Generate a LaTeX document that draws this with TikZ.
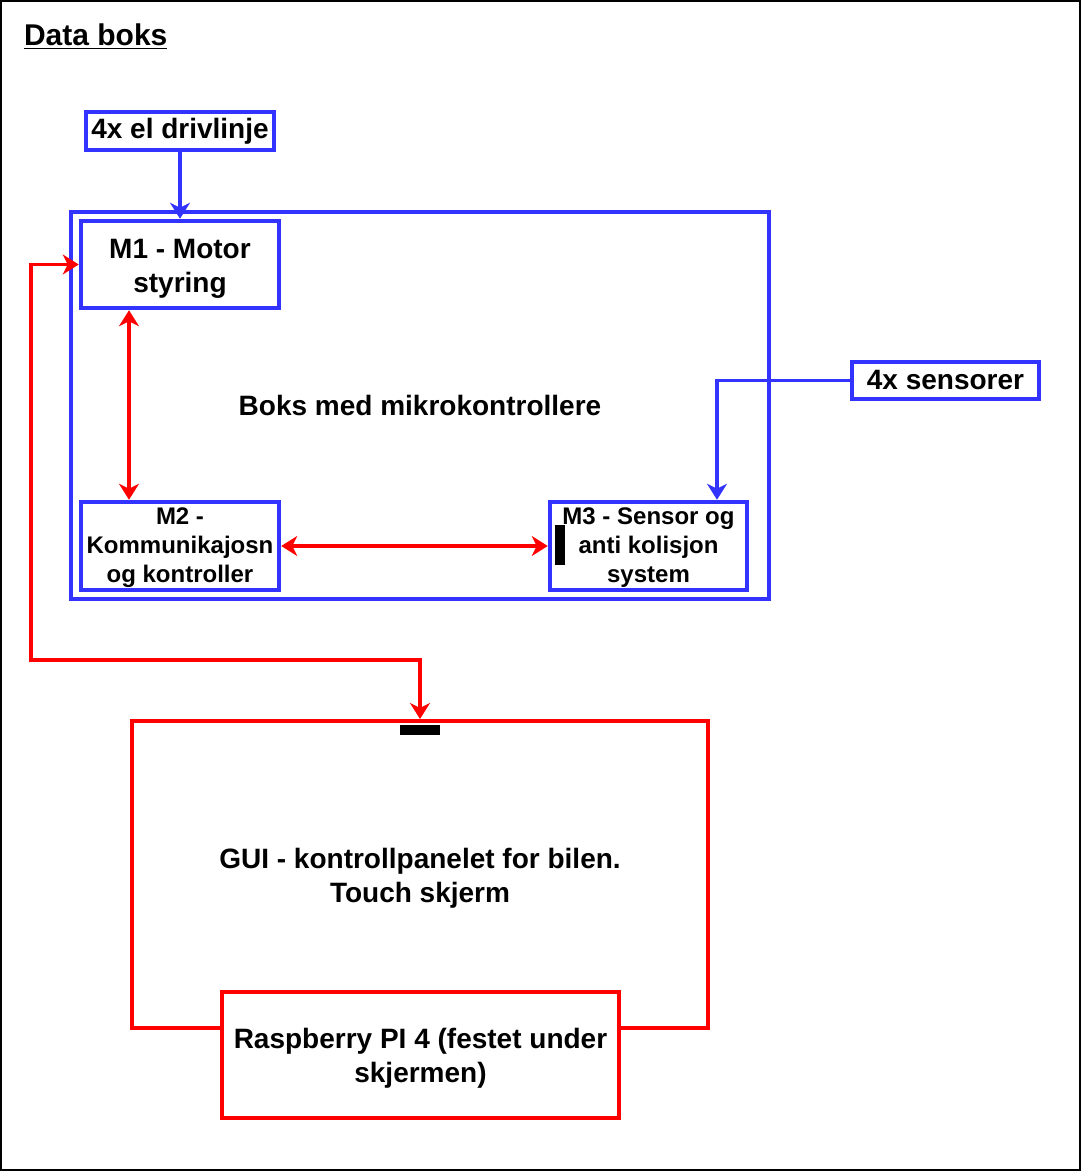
\documentclass[tikz,border=0pt]{standalone}
\usepackage{fontspec}
\setmainfont{Liberation Sans}
\usetikzlibrary{arrows.meta,positioning}
\definecolor{boxblue}{HTML}{3333FF}
\definecolor{linkred}{HTML}{FF0000}

\begin{document}
\begin{tikzpicture}[x=0.5pt,y=-0.5pt,
    bbox/.style={draw=boxblue,line width=2.25pt,fill=white,align=center,
      font=\fontsize{14}{17}\selectfont\bfseries,inner sep=0pt},
    sbox/.style={bbox,font=\fontsize{12}{14.5}\selectfont\bfseries,text height=39.2pt},
    rbox/.style={draw=linkred,line width=2pt,fill=white,align=center,
      font=\fontsize{14}{17}\selectfont\bfseries,inner sep=0pt},
    tall/.style={text height=30.5pt},
    barr/.style={-{Stealth[length=8pt,width=10pt,inset=2.5pt]},boxblue,line width=1.75pt},
    rarr/.style={{Stealth[length=8pt,width=10pt,inset=2.5pt]}-{Stealth[length=8pt,width=10pt,inset=2.5pt]},linkred,line width=1.75pt}]
    \useasboundingbox (0,0) rectangle (1081,1171);
    \draw[line width=1pt] (1,1) rectangle (1080,1170);
    \node[anchor=west,font=\fontsize{15}{18}\selectfont\bfseries](title) at (17,37){\underline{Data boks}};
    % microcontroller box
    \node[bbox,minimum width=349pt,minimum height=193.5pt](mcu) at (420,405.5){Boks med mikrokontrollere};
    \node[bbox,minimum width=94pt,minimum height=19pt](drive) at (180,131){4x el drivlinje};
    \node[bbox,tall,minimum width=99pt,minimum height=43.5pt](m1) at (180,264.5){M1 - Motor\\styring};
    \node[sbox,minimum width=99pt,minimum height=44pt](m2) at (180,546){M2 -\\Kommunikajosn\\og kontroller};
    \node[sbox,minimum width=98.5pt,minimum height=44pt](m3) at (648.5,546){M3 - Sensor og\\anti kolisjon\\system};
    \node[bbox,minimum width=93.5pt,minimum height=18.5pt](sens) at (945.5,380.5){4x sensorer};
    % screen
    \node[rbox,tall,minimum width=288pt,minimum height=153.5pt](gui) at (420,874.5){GUI - kontrollpanelet for bilen.\\Touch skjerm};
    \node[rbox,tall,minimum width=198.5pt,minimum height=63pt](rpi) at (420.5,1055){Raspberry PI 4 (festet under\\skjermen)};
    \coordinate (loop) at (31,660);
    \draw[barr](drive)--(m1);
    \draw[barr](sens.west)-|([xshift=34.25pt]m3.north);
    \draw[rarr]([xshift=-25.5pt]m1.south)--([xshift=-25.5pt]m2.north);
    \draw[rarr](m2)--(m3);
    \draw[rarr](m1.west)-|(loop)-|(gui.north);
    \fill (555,525) rectangle (565,565);
    \fill (400,725) rectangle (440,735);
  \end{tikzpicture}
\end{document}
